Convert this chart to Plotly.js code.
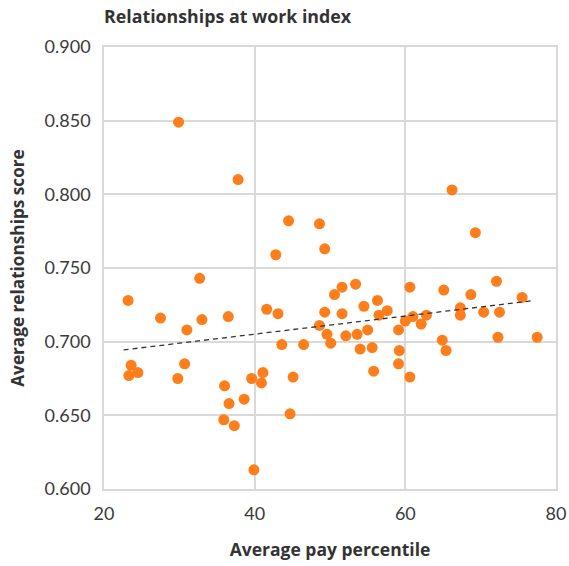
<!DOCTYPE html>
<html>
<head>
<meta charset="utf-8">
<script src="https://cdn.plot.ly/plotly-3.0.1.min.js"></script>
<style>
html,body{margin:0;padding:0;background:#fff;}
#chart{width:569px;height:566px;}
</style>
</head>
<body>
<div id="chart"></div>
<script>
// Average pay percentile (x) and average relationships score (y)
const payPercentile = [
  29.9, 37.8, 44.5, 48.6, 49.3, 42.8, 32.7, 23.2, 27.5, 33.0,
  36.5, 31.0, 41.6, 43.1, 49.3, 48.6, 49.6, 23.6, 23.3, 24.5,
  30.7, 29.8, 43.6, 46.5, 36.0, 36.6, 38.6, 35.9, 37.3, 39.6,
  41.1, 40.9, 45.1, 44.7, 39.9, 66.2, 69.3, 72.1, 75.5, 77.5,
  72.3, 72.5, 70.4, 68.7, 67.3, 67.3, 65.1, 64.9, 65.4, 60.6,
  60.6, 59.1, 59.2, 59.1, 60.0, 61.0, 62.1, 62.8, 57.6, 56.3,
  56.5, 54.5, 53.4, 51.6, 50.6, 51.6, 50.1, 52.1, 53.6, 55.0,
  54.0, 55.6, 55.8
];
const relationshipsScore = [
  0.849, 0.810, 0.782, 0.780, 0.763, 0.759, 0.743, 0.728, 0.716, 0.715,
  0.717, 0.708, 0.722, 0.719, 0.720, 0.711, 0.705, 0.684, 0.677, 0.679,
  0.685, 0.675, 0.698, 0.698, 0.670, 0.658, 0.661, 0.647, 0.643, 0.675,
  0.679, 0.672, 0.676, 0.651, 0.613, 0.803, 0.774, 0.741, 0.730, 0.703,
  0.703, 0.720, 0.720, 0.732, 0.723, 0.718, 0.735, 0.701, 0.694, 0.737,
  0.676, 0.685, 0.694, 0.708, 0.714, 0.717, 0.712, 0.718, 0.721, 0.728,
  0.718, 0.724, 0.739, 0.737, 0.732, 0.719, 0.699, 0.704, 0.705, 0.708,
  0.695, 0.696, 0.680
];
// Trend line end points
const trendX = [22.6, 76.9];
const trendY = [0.6944, 0.7278];

const xTicks = [20, 40, 60, 80];
const yTicks = [0.600, 0.650, 0.700, 0.750, 0.800, 0.850, 0.900];

const titleText = 'Relationships at work index';
const xTitle = 'Average pay percentile';
const yTitle = 'Average relationships score';

const boldFont = 'Open Sans, Arial, sans-serif';
const tickFont = 'Lato, Open Sans, sans-serif';

const traces = [
  {
    x: payPercentile, y: relationshipsScore,
    type: 'scatter', mode: 'markers',
    marker: {color: '#fd7e1b', size: 11, line: {width: 0}},
    hoverinfo: 'x+y', showlegend: false
  },
  {
    x: trendX, y: trendY,
    type: 'scatter', mode: 'lines',
    line: {color: '#333333', width: 1.3, dash: '5px,4px'},
    hoverinfo: 'skip', showlegend: false
  }
];

const layout = {
  width: 569, height: 566,
  margin: {l: 103.5, r: 13.3, t: 46.7, b: 76.7, pad: 0},
  paper_bgcolor: '#ffffff', plot_bgcolor: '#ffffff',
  title: {
    text: '<b>' + titleText + '</b>',
    font: {family: boldFont, size: 17.8, color: '#333333'},
    x: 0, xref: 'paper', xanchor: 'left',
    y: 1 - 17 / 566, yref: 'container', yanchor: 'middle'
  },
  xaxis: {
    range: [20, 80],
    tickvals: xTicks, ticktext: xTicks.map(v => String(v)),
    showgrid: true, gridcolor: '#d9d9d9', gridwidth: 1.6,
    showline: true, linecolor: '#d9d9d9', linewidth: 1.6, mirror: true,
    zeroline: false, ticks: '', ticklabelstandoff: 8,
    tickfont: {family: tickFont, size: 18, color: '#3a3a3a'},
    title: {text: '<b>' + xTitle + '</b>', font: {family: boldFont, size: 17.5, color: '#333333'}, standoff: 20}
  },
  yaxis: {
    range: [0.600, 0.900],
    tickvals: yTicks, ticktext: yTicks.map(v => v.toFixed(3)),
    showgrid: true, gridcolor: '#d9d9d9', gridwidth: 1.6,
    showline: true, linecolor: '#d9d9d9', linewidth: 1.6, mirror: true,
    zeroline: false, ticks: '', ticklabelstandoff: 8,
    tickfont: {family: tickFont, size: 18, color: '#3a3a3a'},
    title: {text: '<b>' + yTitle + '</b>', font: {family: boldFont, size: 17.2, color: '#333333'}, standoff: 16}
  }
};

Plotly.newPlot('chart', traces, layout, {displayModeBar: false, responsive: false});
</script>
</body>
</html>
